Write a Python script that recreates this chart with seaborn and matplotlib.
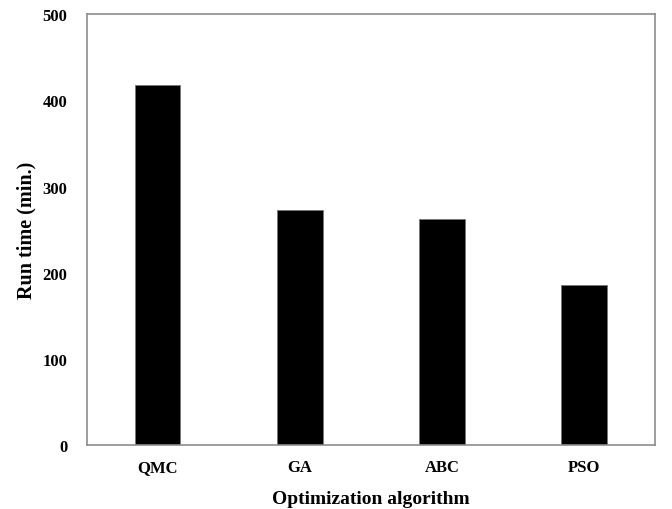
import seaborn as sns
from matplotlib import pyplot as plt
import pandas as pd

sns.set_style("white")
plt.rcParams['font.family'] = ['Liberation Serif', 'DejaVu Serif']
plt.rcParams['text.color'] = 'black'
plt.rcParams['axes.labelcolor'] = 'black'
plt.rcParams['xtick.color'] = 'black'
plt.rcParams['ytick.color'] = 'black'

# values
algorithms = ['QMC', 'GA', 'ABC', 'PSO']
run_time = [418, 273, 262, 186]

df = pd.DataFrame({'algorithm': algorithms, 'run_time': run_time})

fig = plt.figure(figsize=(6.72, 5.1), dpi=100)
ax = fig.add_axes([0.129, 0.125, 0.846, 0.845])

sns.barplot(data=df, x='algorithm', y='run_time', color='black', width=0.32,
            saturation=1, edgecolor='#777777', linewidth=0.6, ax=ax)

ax.set_ylim(0, 500)
ax.set_xlim(-0.5, 3.5)
ax.set_yticks(range(0, 501, 100))
ax.tick_params(axis='both', length=0, labelsize=12)
ax.tick_params(axis='y', pad=14)
ax.tick_params(axis='x', pad=10)
for lbl in ax.get_xticklabels() + ax.get_yticklabels():
    lbl.set_fontweight('bold')

for side in ['left', 'right', 'top', 'bottom']:
    ax.spines[side].set_visible(True)
    ax.spines[side].set_color('#8c8c8c')
    ax.spines[side].set_linewidth(1.2)

ax.set_xlabel('Optimization algorithm', fontsize=14, fontweight='bold', labelpad=11)
ax.set_ylabel('Run time (min.)', fontsize=14.5, fontweight='bold', labelpad=4)

fig.savefig('out.png', dpi=100)
